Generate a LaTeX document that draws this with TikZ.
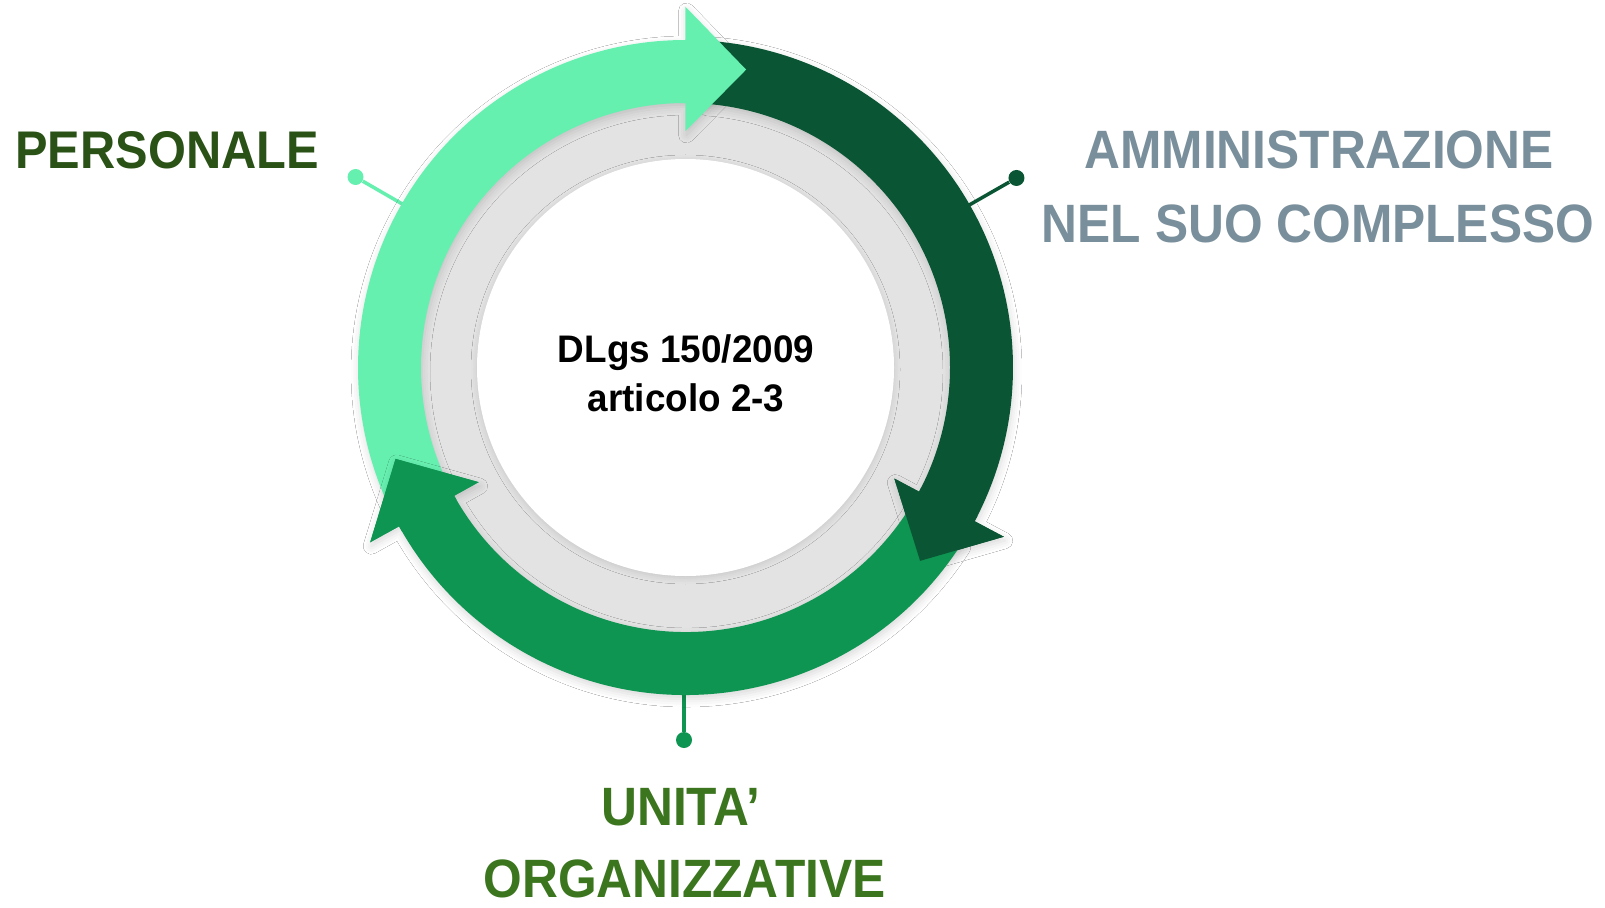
\documentclass[tikz,border=0pt]{standalone}
\usepackage{fontspec}
\newfontfamily\labfont[FakeStretch=0.92]{Liberation Sans}
\newfontfamily\ctrfont[FakeStretch=0.96]{Liberation Sans}
\usetikzlibrary{shadows.blur}
\definecolor{lightg}{HTML}{66F0B0}
\definecolor{darkg}{HTML}{0A5634}
\definecolor{midg}{HTML}{0F9552}
\definecolor{ringgray}{HTML}{E3E3E3}
\definecolor{txtP}{HTML}{2A5216}
\definecolor{txtA}{HTML}{798F9B}
\definecolor{txtU}{HTML}{3B761F}
\newcommand\cycarrow[3]{%
  \fill[#1, blur shadow={shadow xshift=0.5pt, shadow yshift=-2pt, shadow blur radius=4pt, shadow opacity=15}]
    (#2:327.5) arc[start angle=#2, end angle=#3, radius=327.5]
    -- (#3:360.5) -- ({#3-11.5}:304) -- (#3:236.5) -- (#3:264.5)
    arc[start angle=#3, end angle=#2, radius=264.5] -- cycle;}
\newcommand\cychead[2]{%
  \fill[#1] ({#2+1}:327.5) arc[start angle={#2+1}, end angle=#2, radius=327.5]
    -- (#2:360.5) -- ({#2-11.5}:304) -- (#2:236.5) -- (#2:264.5)
    arc[start angle=#2, end angle={#2+1}, radius=264.5] -- cycle;}
\begin{document}
\begin{tikzpicture}[x=0.5pt, y=0.5pt,
  dot/.style={circle, inner sep=0pt, minimum size=8pt},
  conn/.style={line width=1.75pt},
  lab/.style={inner sep=0pt, font=\labfont\bfseries\fontsize{27}{32}\selectfont},
  ctr/.style={inner sep=0pt, font=\ctrfont\bfseries\fontsize{19.2}{24}\selectfont}]
\useasboundingbox (0,0) rectangle (1605,907);
\fill[white] (0,0) rectangle (1605,907);
\begin{scope}[shift={(685.5,539.5)}]
  % connectors
  \coordinate (cP) at (150:320);
  \node[dot, fill=lightg] (dP) at (150:381) {};
  \draw[conn, lightg] (cP) -- (dP);
  \coordinate (cA) at (29.8:320);
  \node[dot, fill=darkg] (dA) at (29.8:381.4) {};
  \draw[conn, darkg] (cA) -- (dA);
  \coordinate (cU) at (-1.5,-320);
  \node[dot, fill=midg] (dU) at (-1.5,-372.5) {};
  \draw[conn, midg] (cU) -- (dU);
  % gray ring
  \fill[ringgray] (0,0) circle[radius=300];
  % arrows
  \cycarrow{lightg}{204.5}{90}
  \cycarrow{darkg}{85.5}{-28}
  \cycarrow{midg}{327.5}{209}
  \cychead{lightg}{90}
  \cychead{darkg}{-28}
  \cychead{midg}{209}
  % inner white disk
  \fill[white, blur shadow={shadow xshift=0pt, shadow yshift=-1pt, shadow blur radius=3pt, shadow opacity=12}] (0,0) circle[radius=208.5];
  \node[ctr, anchor=base] (t1) at (0.5,5.5) {DLgs 150/2009};
  \node[ctr, anchor=base] (t2) at (0.5,-44) {articolo 2-3};
\end{scope}
\node[lab, text=txtP, anchor=base west, font=\labfont\bfseries\fontsize{26.5}{32}\selectfont] (pers) at (15,739) {PERSONALE};
\node[lab, text=txtA, anchor=base] (amm1) at (1319,738) {AMMINISTRAZIONE};
\node[lab, text=txtA, anchor=base] (amm2) at (1318,665) {NEL SUO COMPLESSO};
\node[lab, text=txtU, anchor=base] (un1) at (681,82) {UNITA’};
\node[lab, text=txtU, anchor=base] (un2) at (684.5,10) {ORGANIZZATIVE};
\end{tikzpicture}
\end{document}
